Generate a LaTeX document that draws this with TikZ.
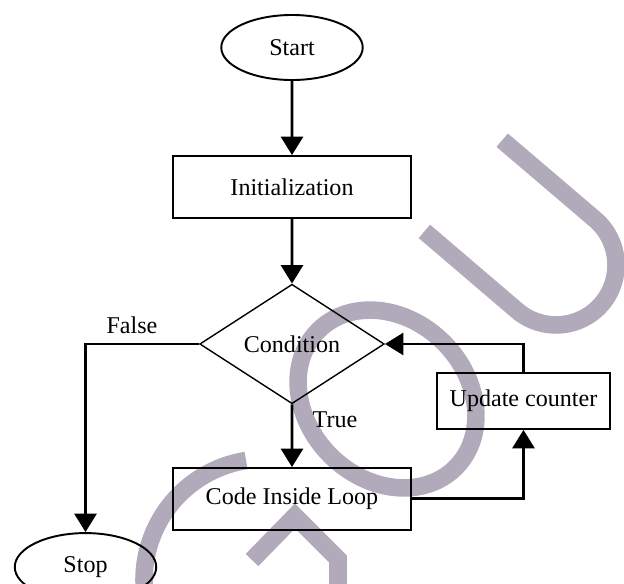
\documentclass[tikz,border=0pt]{standalone}
\usepackage{fontspec}
\setmainfont{Liberation Serif}
\usetikzlibrary{shapes.geometric,arrows.meta}
\definecolor{wmgray}{RGB}{177,170,187}
\begin{document}
\begin{tikzpicture}[scale=0.2]
                \tikzstyle{every node}+=[inner sep=0pt, font=\fontsize{13.7}{16}\selectfont]
                \tikzstyle{terminal}=[draw, ellipse, line width=1.1pt, minimum width=80.5pt, minimum height=37pt]
                \tikzstyle{process}=[draw, rectangle, line width=1.1pt, minimum width=135pt, minimum height=35.2pt]
                \tikzstyle{decision}=[draw, diamond, line width=0.8pt, minimum width=105pt, minimum height=68pt]
                \tikzstyle{flow}=[line width=1.7pt, -{Triangle[width=12.5pt,length=10.5pt]}]
                \tikzstyle{wmark}=[wmgray, line width=10pt]
                \useasboundingbox (0,0) rectangle (62.4,-58.4);
                \clip (0,0) rectangle (62.4,-58.4);
                % watermark letters
                \draw [wmark] (42.44,-23.14) -- (51.71,-31.06) arc [start angle=229.5, end angle=409.5, radius=6] -- (50.22,-14.02);
                \begin{scope}[shift={(38.7,-39.9)}, rotate=-45]
                    \draw [wmark] (0,0) ellipse [x radius=9.7, y radius=8];
                \end{scope}
                \draw [wmark] (26.5,-58) ++(99:12.1) arc [start angle=99, end angle=200, radius=12.1];
                \draw [wmark] (25.2,-56) -- (29.5,-51.6) -- (33.8,-55.9) -- (33.8,-60);
                % flowchart
                \node (start) at (29.2,-4.75) [terminal] {Start};
                \node (init) at (29.2,-18.7) [process] {Initialization};
                \node (cond) at (29.2,-34.4) [decision] {Condition};
                \node (code) at (29.2,-49.9) [process] {Code Inside Loop};
                \node (upd) at (52.35,-40.1) [process, minimum width=98.7pt, minimum height=31.8pt] {Update counter};
                \node (stop) at (8.55,-56.7) [terminal, minimum height=38.6pt] {Stop};
                \node (falselbl) at (13.2,-32.5) {False};
                \node (truelbl) at (33.5,-42.0) {True};
                \draw [flow] (start) -- (init);
                \draw [flow] (init) -- (cond);
                \draw [flow] (cond) -- (code);
                \draw [flow] (code) -| (upd);
                \draw [flow] (upd) |- (cond);
                \draw [flow] (cond) -| (stop);
\end{tikzpicture}
\end{document}
